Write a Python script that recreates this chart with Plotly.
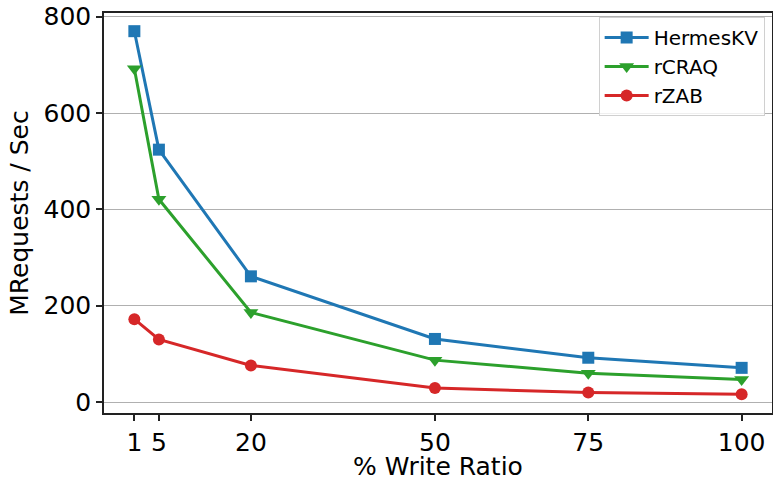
import plotly.graph_objects as go

write_ratio = [1, 5, 20, 50, 75, 100]
hermes = [770, 524, 261, 131, 92, 71]
rcraq = [692, 421, 186, 87, 60, 47]
rzab = [172, 130, 76, 29, 20, 16]
tick_vals = [1, 5, 20, 50, 75, 100]
y_ticks = [0, 200, 400, 600, 800]

FONT = "DejaVu Sans"
fig = go.Figure()
series = [
    ("HermesKV", hermes, "#1f77b4", "square", 12),
    ("rCRAQ", rcraq, "#2ca02c", "triangle-down", 13),
    ("rZAB", rzab, "#d62728", "circle", 12),
]
for name, vals, color, sym, ms in series:
    fig.add_trace(go.Scatter(
        x=write_ratio, y=vals, name=name, mode="lines+markers",
        line=dict(color=color, width=3),
        marker=dict(symbol=sym, size=ms, color=color, line=dict(width=0)),
        legendgroup=name,
    ))

fig.update_layout(
    width=773, height=481,
    margin=dict(l=104, r=1, t=13, b=68),
    paper_bgcolor="white", plot_bgcolor="white",
    font=dict(family=FONT, color="black", size=25),
    showlegend=True,
    legend=dict(
        x=0.989, y=0.99, xanchor="right", yanchor="top",
        bgcolor="rgba(255,255,255,0.8)", bordercolor="#d0d0d0", borderwidth=1,
        font=dict(family=FONT, size=20, color="black"),
        tracegroupgap=0, itemwidth=44,
    ),
    xaxis=dict(
        range=[-3.95, 104.95], tickmode="array", tickvals=tick_vals,
        ticktext=[str(v) for v in tick_vals],
        showgrid=False, zeroline=False, automargin=False,
        showline=True, linecolor="#222", linewidth=1.5, mirror=True,
        ticks="outside", ticklen=6, tickwidth=1.5, tickcolor="#222",
        tickfont=dict(size=25, family=FONT),
        title=dict(text="% Write Ratio", font=dict(size=25, family=FONT), standoff=9),
    ),
    yaxis=dict(
        range=[-22.75, 807.75], tickmode="array", tickvals=y_ticks,
        showgrid=True, gridcolor="#b0b0b0", gridwidth=1, zeroline=False, automargin=False,
        showline=True, linecolor="#222", linewidth=1.5, mirror=True,
        ticks="outside", ticklen=6, tickwidth=1.5, tickcolor="#222",
        tickfont=dict(size=25, family=FONT),
        title=dict(text="MRequests / Sec", font=dict(size=25, family=FONT), standoff=8),
    ),
)
fig.write_html("out.html", config={"displayModeBar": False},
               post_script="document.body.style.margin='0';")
